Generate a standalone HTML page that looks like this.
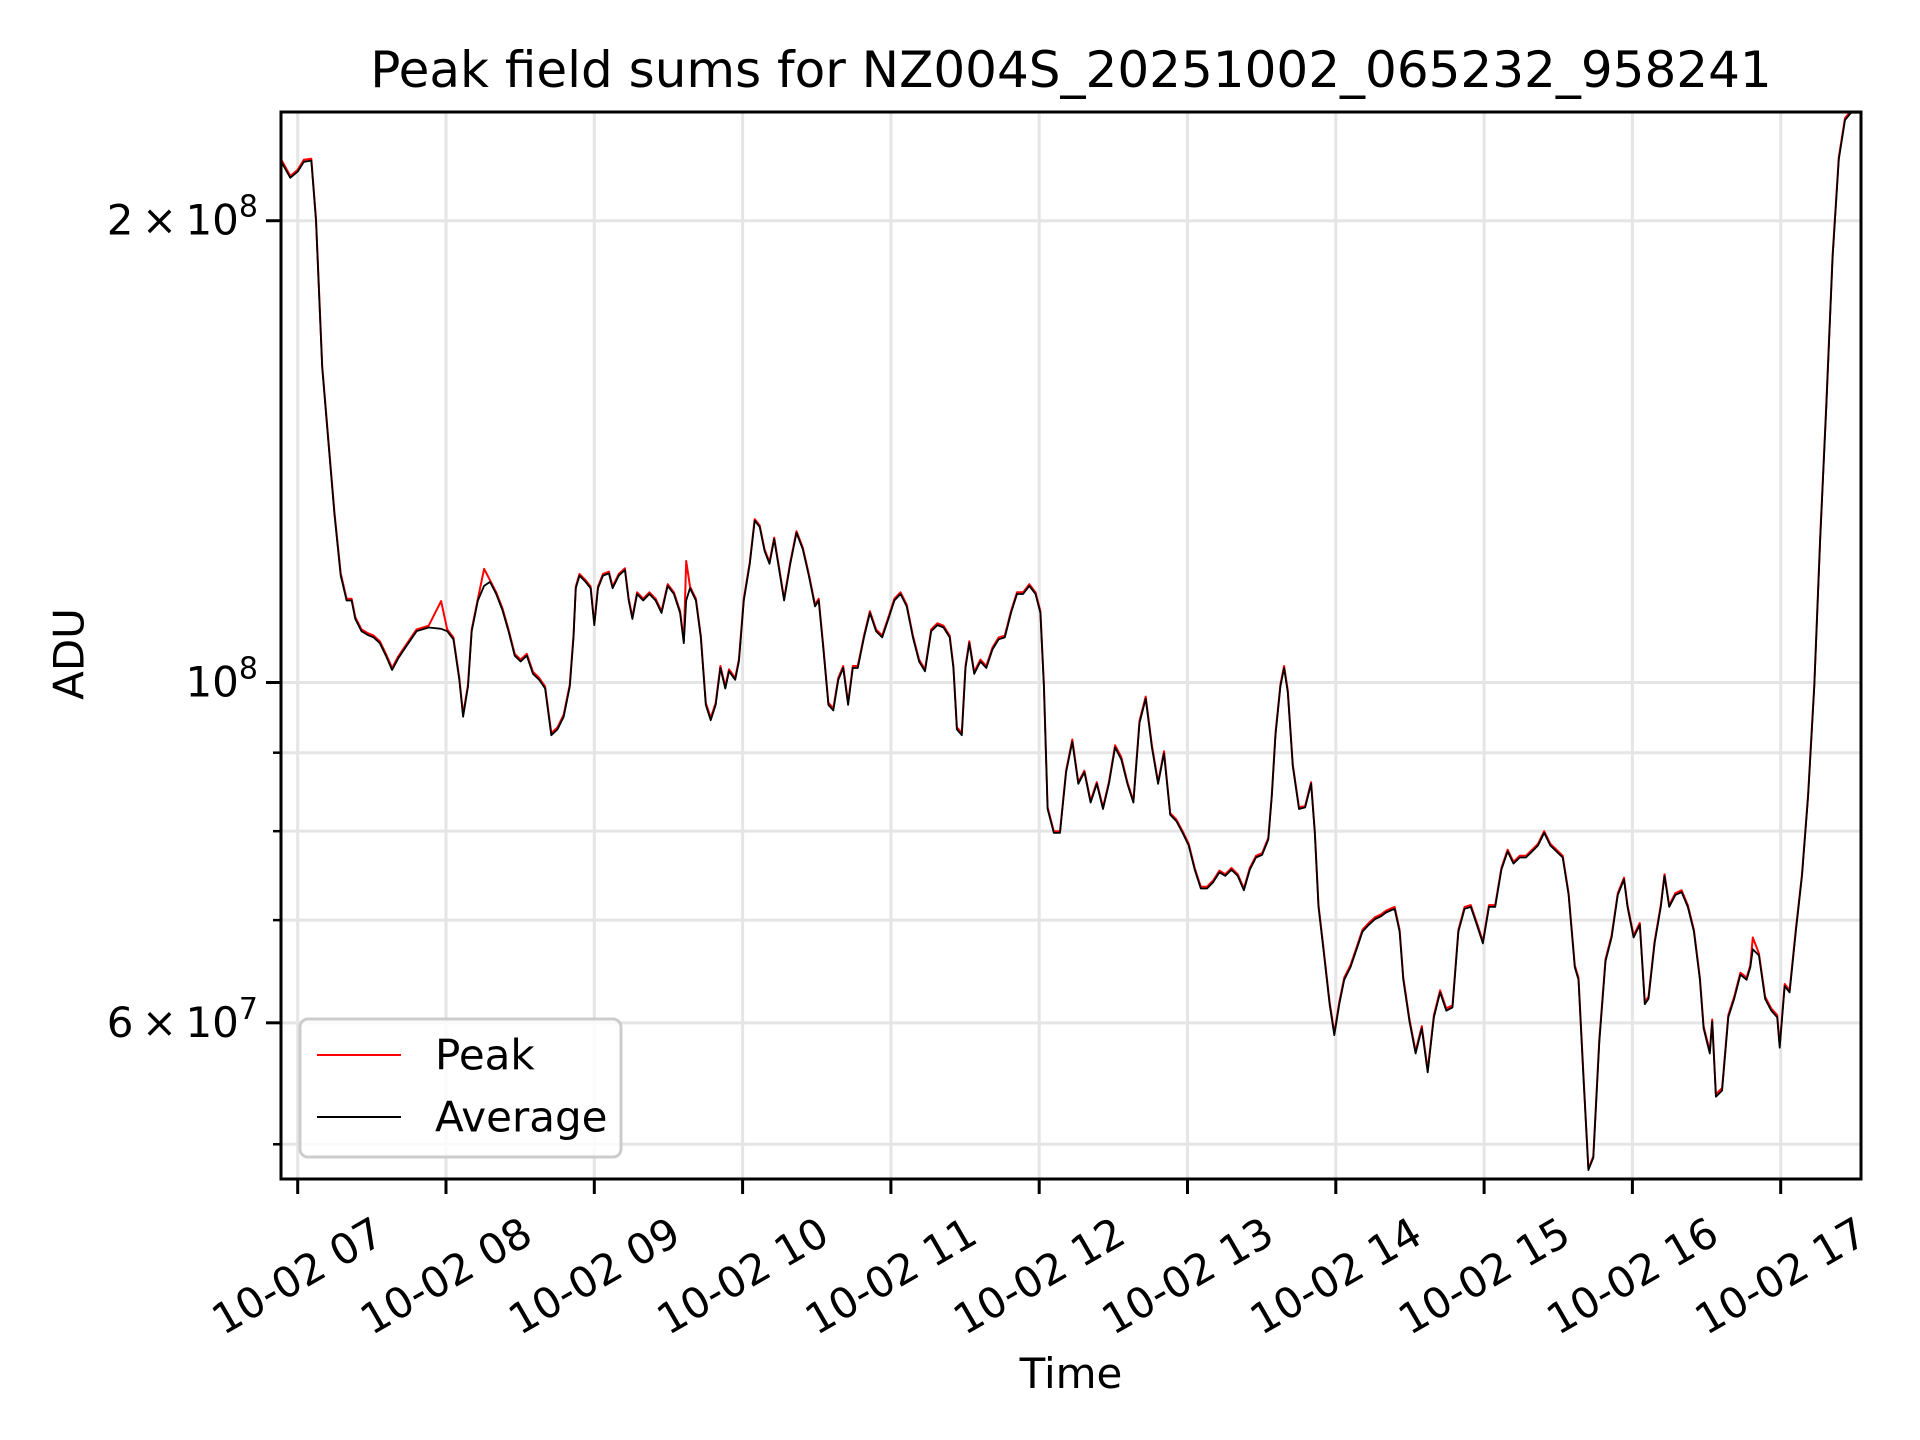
<!DOCTYPE html>
<html><head><meta charset="utf-8"><style>
html,body{margin:0;padding:0;background:#fff;}
svg{display:block;font-family:"DejaVu Sans","Liberation Sans",sans-serif;}
</style></head><body>
<svg id="chart" width="1920" height="1440" viewBox="0 0 1920 1440">
<rect width="1920" height="1440" fill="#fff"/>
<text x="1071" y="87" font-size="50" text-anchor="middle">Peak field sums for NZ004S_20251002_065232_958241</text>
<g id="grid"></g>
<g id="series"></g>
<rect x="281" y="112" width="1580" height="1067" fill="none" stroke="#000" stroke-width="3"/>
<g id="ticks"></g>
<text transform="translate(69,654) rotate(-90)" font-size="42" text-anchor="middle" dominant-baseline="central">ADU</text>
<text x="1071" y="1388" font-size="42" text-anchor="middle">Time</text>
<g>
<rect x="300" y="1019" width="321" height="138" rx="8" fill="#fff" fill-opacity="0.8" stroke="#cccccc" stroke-width="3"/>
<line x1="317" y1="1055" x2="401" y2="1055" stroke="#ff0000" stroke-width="2"/>
<text x="435" y="1055" font-size="42" dominant-baseline="central">Peak</text>
<line x1="317" y1="1117" x2="401" y2="1117" stroke="#000" stroke-width="2"/>
<text x="435" y="1117" font-size="42" dominant-baseline="central">Average</text>
</g>
</svg>
<script>
// minutes since 10-02 07:00
const timesMin = [-6.9,-3.0,0,2.5,5.5,7.4,9.9,12.4,14.9,17.4,19.8,21.8,23.3,25.8,28.3,30.7,33.2,35.7,38.2,40.7,43.1,48.1,53.0,58.0,60.5,63.0,65.4,66.9,68.9,70.4,72.9,75.4,77.8,80.3,82.8,85.3,87.8,90.2,92.7,95.2,97.7,100.1,102.6,105.1,107.6,110.1,111.6,112.5,114.0,116.5,118.5,120.0,121.5,123.5,125.9,127.4,129.9,132.4,133.9,135.4,137.3,139.8,142.3,144.8,147.2,149.7,152.2,154.7,156.2,157.2,158.7,161.1,163.1,165.1,167.1,169.1,171.0,173.0,174.5,177.0,178.5,180.5,182.9,184.9,186.9,188.9,190.9,192.8,194.8,196.8,199.3,201.8,204.3,206.8,209.3,210.8,212.7,214.7,216.7,218.7,220.7,222.7,224.6,226.6,229.1,231.5,234.0,236.5,239.0,241.4,243.9,246.4,248.9,251.4,253.8,256.3,258.8,261.3,263.8,265.3,266.7,268.7,270.2,271.7,273.7,276.2,278.6,281.1,283.6,286.1,288.6,291.0,293.5,296.0,298.5,300.5,301.9,303.4,305.9,308.4,310.9,313.4,315.8,318.3,320.8,323.3,325.8,328.2,330.7,333.2,335.7,338.1,340.6,343.1,345.6,348.1,350.5,353.0,355.5,358.0,360.5,362.9,365.4,367.9,370.4,372.9,375.3,377.8,380.3,382.8,385.2,387.7,390.2,392.7,394.1,395.6,397.6,399.1,400.6,402.6,405.1,407.6,410.0,411.5,413.0,415.0,417.5,419.4,421.4,423.4,425.9,428.4,430.8,433.3,435.8,438.3,440.3,443.8,445.8,447.3,449.8,452.3,454.8,457.2,459.7,462.2,464.7,467.2,469.6,472.1,474.6,477.1,479.5,482.0,484.5,487.0,489.5,491.9,494.4,496.9,499.4,501.8,504.3,506.8,509.3,511.8,514.2,516.7,518.2,520.2,522.2,524.2,526.6,529.1,531.6,534.1,536.6,538.0,540.5,543.0,545.0,546.5,549.0,551.5,553.0,554.9,557.4,559.9,562.4,564.9,567.3,568.8,571.3,572.3,573.8,576.3,578.8,581.2,583.7,586.2,587.7,588.7,591.2,593.7,596.2,598.6,599.6,601.6,603.6,606.1,608.6,611.1,613.6,616.0,618.5,621.0,623.5,626.0,628.5,633.0];
// values in millions of ADU
const averageVals = [218.9,213.3,215.3,218.5,218.9,200,160.4,143.7,128.6,117.4,113.1,113.1,110.0,108.0,107.4,107.0,106.1,104.1,101.9,103.7,105.1,108.0,108.6,108.4,108.0,106.7,100.4,95.0,99.4,108.0,113.1,115.6,116.3,114.2,111.5,108.0,104.1,103.2,104.1,101.3,100.4,99.1,92.4,93.2,95.0,99.4,107.0,115.2,117.4,116.3,115.2,109.0,115.2,117.4,117.8,115.2,117.4,118.4,113.1,110.0,114.2,113.1,114.2,113.1,111.0,115.6,114.2,111.0,106.1,113.1,115.2,113.1,107.0,96.7,94.5,96.7,102.2,99.1,101.7,100.4,103.2,113.1,119.5,127.5,126.3,121.8,119.5,124.0,118.4,113.1,119.5,125.2,122.2,117.4,112.1,113.1,105.1,96.7,95.9,100.4,102.2,96.7,102.2,102.2,107.0,111.0,108.0,107.0,110.0,113.1,114.2,112.1,107.0,103.2,101.7,108.0,109.0,108.6,107.0,102.2,93.2,92.4,102.2,106.1,101.3,103.2,102.2,105.1,106.7,107.0,111.0,114.2,114.2,115.6,114.2,111.0,99.4,82.7,79.8,79.8,87.4,91.5,85.9,87.4,83.5,85.9,82.7,85.9,90.7,89.1,85.9,83.5,94.1,97.6,90.7,85.9,89.9,82.0,81.2,79.8,78.3,75.5,73.4,73.4,74.1,75.2,74.8,75.5,74.8,73.2,75.5,76.9,77.2,79.0,84.3,92.4,99.4,102.2,98.5,88.2,82.7,82.9,85.9,79.8,71.4,67.0,61.7,58.9,61.7,64.0,65.2,67.0,68.8,69.5,70.1,70.4,70.8,71.2,68.8,64.0,60.1,57.3,59.5,55.7,60.5,62.8,61.1,61.4,68.8,71.2,71.4,69.5,67.6,71.4,71.4,75.5,77.6,76.2,76.9,76.9,77.6,78.3,79.8,78.3,77.6,76.9,72.7,65.2,64.0,55.2,48.1,49.0,58.3,65.8,68.2,72.7,74.4,71.4,68.2,69.5,61.7,62.2,67.6,71.4,74.8,71.4,72.7,73.0,71.4,68.8,64.0,59.5,57.3,60.1,53.7,54.2,60.5,62.2,64.5,64.0,65.2,67.0,66.4,62.2,61.1,60.5,57.8,63.4,62.8,68.8,74.8,84.3,99.4,124.0,151.8,189.3,219.3,232.6,235.2,235.2];
const peakVals = [219.6,213.9,215.9,219.2,219.5,200.6,160.9,144.1,129.0,117.8,113.4,113.4,110.3,108.3,107.7,107.3,106.4,104.4,102.2,104.0,105.4,108.3,108.9,113.0,108.3,107.0,100.7,95.3,99.7,108.3,113.4,118.6,116.6,114.5,111.8,108.3,104.4,103.5,104.4,101.6,100.7,99.4,92.7,93.5,95.3,99.7,107.3,115.5,117.7,116.6,115.5,109.3,115.5,117.7,118.1,115.5,117.7,118.7,113.4,110.3,114.5,113.4,114.5,113.4,111.3,115.9,114.5,111.3,106.4,120.0,115.5,113.4,107.3,97.0,94.8,97.0,102.5,99.4,102.0,100.7,103.5,113.4,119.8,127.8,126.6,122.1,119.8,124.3,118.7,113.4,119.8,125.5,122.5,117.7,112.4,113.4,105.4,97.0,96.2,100.7,102.5,97.0,102.5,102.5,107.3,111.3,108.3,107.3,110.3,113.4,114.5,112.4,107.3,103.5,102.0,108.3,109.3,108.9,107.3,102.5,93.5,92.7,102.5,106.4,101.6,103.5,102.5,105.4,107.0,107.3,111.3,114.5,114.5,115.9,114.5,111.3,99.7,82.9,80.0,80.0,87.6,91.8,86.1,87.6,83.7,86.1,82.9,86.1,91.0,89.4,86.1,83.7,94.4,97.9,91.0,86.1,90.2,82.2,81.4,80.0,78.5,75.7,73.6,73.6,74.3,75.4,75.0,75.7,75.0,73.4,75.7,77.1,77.4,79.2,84.5,92.7,99.7,102.5,98.8,88.4,82.9,83.1,86.1,80.0,71.6,67.2,61.9,59.1,61.9,64.2,65.4,67.2,69.0,69.7,70.3,70.6,71.0,71.4,69.0,64.2,60.3,57.5,59.7,55.9,60.7,63.0,61.3,61.6,69.0,71.4,71.6,69.7,67.8,71.6,71.6,75.7,77.8,76.4,77.1,77.1,77.8,78.5,80.0,78.5,77.8,77.1,72.9,65.4,64.2,55.4,48.2,49.1,58.5,66.0,68.4,72.9,74.6,71.6,68.4,69.7,61.9,62.4,67.8,71.6,75.0,71.6,72.9,73.2,71.6,69.0,64.2,59.7,57.5,60.3,53.9,54.4,60.7,62.4,64.7,64.2,65.4,68.2,66.6,62.4,61.3,60.7,58.0,63.6,63.0,69.0,75.0,84.5,99.7,124.4,152.3,189.9,220.0,233.3,235.9,235.9];
const xTickHours = [7,8,9,10,11,12,13,14,15,16,17];
const xTickLabels = ["10-02 07","10-02 08","10-02 09","10-02 10","10-02 11","10-02 12","10-02 13","10-02 14","10-02 15","10-02 16","10-02 17"];
const yMajorVals = [200,100,60];
const yMajorMant = ["2","","6"];
const yMajorExp = ["8","8","7"];
const yMinorVals = [50,70,80,90];

const NS = "http://www.w3.org/2000/svg";
const L = 281, R = 1861, T = 112, B = 1179;
function xScale(min){ return 297.7 + min * 148.3 / 60; }
function yScale(v){ return 682.5 - 1534 * Math.log10(v / 100); }
function mk(tag, attrs, parent){
  const e = document.createElementNS(NS, tag);
  for (const k in attrs) e.setAttribute(k, attrs[k]);
  parent.appendChild(e);
  return e;
}
const grid = document.getElementById('grid');
const ticks = document.getElementById('ticks');
const series = document.getElementById('series');

xTickHours.forEach((h, i) => {
  const x = xScale((h - 7) * 60);
  const g = mk('line', {x1:x, x2:x, y1:T, y2:B, stroke:'#e5e5e5', 'stroke-width':3}, grid);
  
  
  const t = mk('line', {x1:x, x2:x, y1:B, y2:B+15, stroke:'#000', 'stroke-width':3}, ticks);
  
  
  const lbl = mk('text', {x:x, y:1276, 'font-size':42, 'text-anchor':'middle', 'dominant-baseline':'central', transform:`rotate(-30 ${x} 1276)`}, ticks);
  lbl.textContent = xTickLabels[i];
  
  
});
yMinorVals.forEach(v => {
  const y = yScale(v);
  const g = mk('line', {x1:L, x2:R, y1:y, y2:y, stroke:'#e5e5e5', 'stroke-width':3}, grid);
  
  
  const t = mk('line', {x1:L-8, x2:L, y1:y, y2:y, stroke:'#000', 'stroke-width':2.5}, ticks);
  
  
});
yMajorVals.forEach((v, i) => {
  const y = yScale(v);
  const g = mk('line', {x1:L, x2:R, y1:y, y2:y, stroke:'#e5e5e5', 'stroke-width':3}, grid);
  
  
  const t = mk('line', {x1:L-15, x2:L, y1:y, y2:y, stroke:'#000', 'stroke-width':3}, ticks);
  
  
  const lbl = mk('text', {x:258, y:y+14, 'font-size':42, 'text-anchor':'end'}, ticks);
  
  
  const pre = (yMajorMant[i] ? yMajorMant[i] + '\u2009\u00d7\u2009' : '') + '10';
  const t1 = mk('tspan', {}, lbl); t1.textContent = pre;
  const t2 = mk('tspan', {dy:-18, 'font-size':30}, lbl); t2.textContent = yMajorExp[i];
});
function pathFor(vals){
  return vals.map((v, i) => (i ? 'L' : 'M') + xScale(timesMin[i]).toFixed(1) + ' ' + yScale(v).toFixed(1)).join(' ');
}
const clip = mk('clipPath', {id:'plotclip'}, series);
mk('rect', {x:L, y:T, width:R-L, height:B-T}, clip);
const pk = mk('path', {d:pathFor(peakVals), fill:'none', stroke:'#ff0000', 'stroke-width':2, 'clip-path':'url(#plotclip)', 'stroke-linejoin':'round'}, series);


const av = mk('path', {d:pathFor(averageVals), fill:'none', stroke:'#000', 'stroke-width':1.8, 'clip-path':'url(#plotclip)', 'stroke-linejoin':'round'}, series);


</script>
</body></html>
